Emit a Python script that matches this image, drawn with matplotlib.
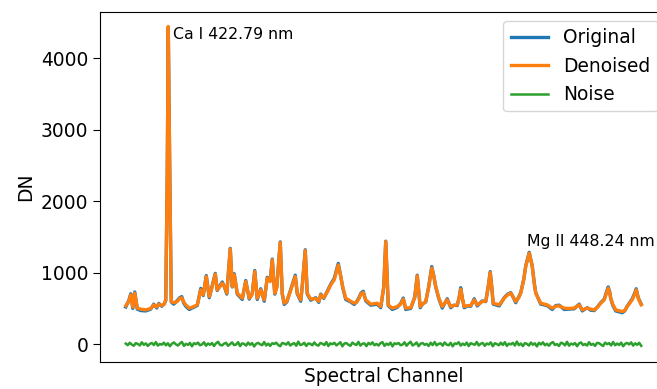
import numpy as np
import matplotlib
matplotlib.use("Agg")
import matplotlib.pyplot as plt

# spectral channel of each vertex
channel = [0, 6, 10, 14, 18, 23, 30, 40, 50, 56, 62, 66, 72, 77, 80, 83, 85, 88, 91, 96,
           103, 108, 112, 116, 120, 127, 134, 143, 150, 155, 161, 167, 173, 179, 183, 188,
           193, 198, 202, 209, 213, 217, 223, 233, 240, 247, 253, 258, 263, 270, 277, 283,
           289, 293, 298, 302, 309, 313, 317, 322, 327, 332, 339, 343, 350, 353, 359, 363,
           370, 380, 386, 390, 396, 404, 410, 417, 425, 430, 434, 440, 450, 457, 462, 467,
           470, 475, 480, 490, 503, 510, 516, 520, 525, 533, 543, 550, 555, 560, 570, 578,
           583, 589, 594, 600, 606, 612, 616, 620, 626, 633, 643, 650, 656, 663, 667, 670,
           673, 677, 684, 690, 697, 703, 713, 720, 725, 729, 732, 735, 747, 757, 764, 770,
           775, 780, 786, 790, 796, 800, 807, 813, 817, 820, 830, 843, 853, 860, 867, 877,
           886, 897, 907, 913, 923, 930, 937, 944, 950, 957, 962, 965, 968, 970, 974, 980,
           993, 998, 1003, 1013, 1018, 1021, 1025, 1031]

denoised = [536, 600, 690, 518, 714, 504, 490, 480, 500, 550, 520, 560, 540, 560, 620, 2400, 4443, 2400, 596, 580,
            596, 640, 648, 590, 550, 504, 520, 550, 760, 690, 946, 666, 806, 979, 760, 800,
            853, 800, 713, 1333, 806, 970, 713, 643, 876, 643, 700, 1016, 643, 760, 620, 923,
            876, 1179, 713, 786, 1421, 713, 573, 600, 693, 800, 946, 713, 620, 806, 1309, 713,
            630, 640, 600, 690, 650, 740, 830, 900, 1109, 946, 800, 643, 600, 573, 590, 643,
            700, 722, 620, 560, 573, 526, 800, 1435, 550, 504, 526, 560, 630, 504, 510, 650,
            955, 526, 560, 596, 800, 1063, 950, 806, 650, 526, 620, 526, 540, 550, 650, 769,
            650, 526, 540, 540, 620, 550, 596, 600, 800, 1002, 800, 573, 550, 643, 690, 713,
            660, 596, 650, 713, 900, 1086, 1273, 1086, 850, 713, 573, 550, 504, 530, 536, 504,
            500, 504, 550, 480, 504, 490, 480, 520, 573, 620, 720, 783, 720, 643, 560, 480,
            456, 470, 526, 620, 700, 760, 643, 550]

original = [520, 610, 705, 500, 730, 490, 470, 465, 490, 560, 505, 570, 530, 565, 610, 2400, 4430, 2400, 590, 560,
            610, 650, 665, 575, 530, 485, 510, 540, 780, 680, 960, 650, 820, 990, 750, 815,
            870, 790, 700, 1340, 800, 985, 700, 625, 890, 630, 710, 1030, 625, 775, 600, 935,
            890, 1190, 700, 800, 1430, 700, 555, 590, 700, 810, 965, 705, 600, 815, 1320, 700,
            615, 650, 585, 700, 640, 755, 840, 920, 1130, 950, 790, 625, 590, 555, 595, 660,
            710, 740, 605, 545, 560, 510, 800, 1440, 540, 485, 515, 570, 645, 485, 500, 660,
            965, 510, 565, 590, 810, 1085, 960, 800, 640, 505, 635, 510, 545, 540, 660, 790,
            650, 510, 535, 530, 635, 535, 605, 595, 805, 1015, 800, 560, 535, 650, 700, 720,
            655, 580, 660, 720, 905, 1095, 1285, 1095, 860, 720, 560, 540, 485, 540, 545, 485,
            490, 495, 560, 465, 510, 475, 470, 525, 580, 630, 740, 800, 730, 640, 545, 465,
            440, 465, 530, 635, 715, 775, 650, 560]

noise = [8, -14, 20, -6, -22, 15, 3, -18, 26, -9, 11, -25, 4, 17, -12, 29, -20, 2, -7, 21,
         -16, 13, -28, 6, 24, -3, -19, 10, 31, -24, 5, -11, 18, -30, 14, 0, 22, -15, -4, 27,
         -21, 9, -8, 16, -26, 12, 33, -10, -17, 7, 19, -23, 1, 25, -13, -5, 28, -27, 11, 4,
         -20, 23, -9, 15, -32, 6, 18, -2, -14, 30, -18, 8, -24, 13, 3, 21, -11, -29, 17, 9,
         -6, 26, -19, 2, 14, -22, 35, -12, -3, 20, -25, 10, 5, -16, 24, -8, -21, 16, 7, -13,
         29, -26, 12, -1, 19, -17, 4, 27, -30, 9, 15, -7, -23, 22, 1, -12, 32, -20, 6, 11,
         -27, 18, -4, 25, -15, 3, -19, 14, 28, -24, 8, -10, 21, -31, 13, 2, 17, -14, -6, 26,
         -22, 10, 34, -18, -2, 23, -28, 7, 16, -9, 4, -25, 20, -13, 30, -17, 5, 12, -21, 24,
         -7, -15, 19, -30, 11, 3, 27, -20, 8, -12, 22, -26, 14, 1, -9, 31, -18, 6, 17, -23,
         10, -4, 25, -29, 13, 2, -16, 21, -11, 28, -24, 7, -3, 18, -19, 36, -14, 9, -27, 15,
         4, -20, 23, -8, 12, -31, 19, -5, 26, -16, 6, -22, 14, 29, -12, 1, -25, 20, 10, -17,
         33, -21, 8, -6, 16, -28, 11, 24, -13, 3, -19, 27, -10, 5, -24, 18, 13, -7, -26, 22,
         0, 15, -18, 30, -15, 9, -11, 21, -29, 6, 17, -4, 25, -20, 12, -9, 19, -23]
noise_channel = np.linspace(0, 1031, len(noise))

fig = plt.figure(figsize=(6.57, 3.89), dpi=100)
ax = fig.add_axes([0.1522, 0.0702, 0.863, 0.8998])

ax.plot(channel, original, color='#1f77b4', linewidth=2.4, label='Original')
ax.plot(channel, denoised, color='#ff7f0e', linewidth=2.4, label='Denoised')
ax.plot(noise_channel, noise, color='#2ca02c', linewidth=1.8, label='Noise')

ax.text(95, 4266, 'Ca I 422.79 nm', fontsize=11.3, va='baseline', ha='left')
ax.text(803, 1371, 'Mg II 448.24 nm', fontsize=11.3, va='baseline', ha='left')

ax.set_ylim(-245, 4650)
ax.set_xticks([])
ax.set_yticks([0, 1000, 2000, 3000, 4000])
ax.tick_params(axis='y', labelsize=13.4, length=5)
ax.set_xlabel('Spectral Channel', fontsize=13.4)
ax.set_ylabel('DN', fontsize=13.4)

ax.legend(loc='upper right', fontsize=13.4)

fig.savefig('out.png', dpi=100)
